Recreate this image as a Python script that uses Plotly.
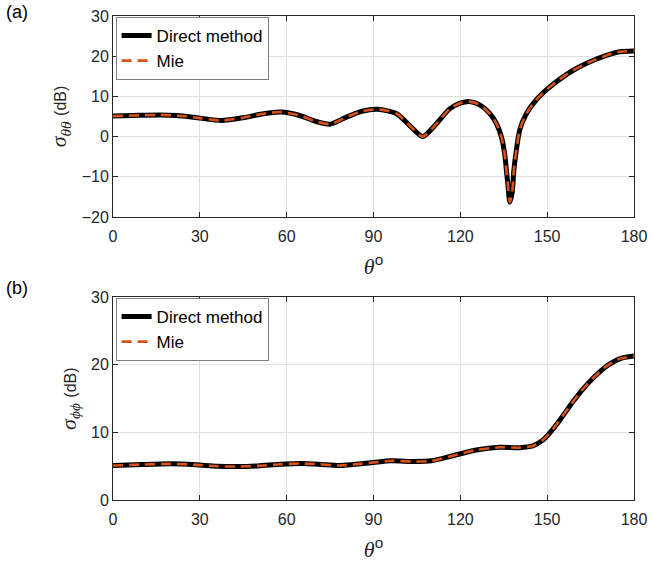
import plotly.graph_objects as go

# (a) sigma_theta-theta, dB
theta_a = [0, 7, 16, 22, 30, 37.5, 45, 52, 58, 64.5, 70, 75, 80.5, 86, 91.5, 98,
           102.5, 107, 111.5, 116.3, 120, 123.2, 126.7, 130.2, 132.5, 134.2, 135.3,
           135.9, 136.5, 137.1, 137.9, 138.5, 139.2, 140.5, 142.8, 146.3, 150, 154.4,
           159, 164.8, 170.5, 175.2, 180]
sigma_tt = [5.1, 5.25, 5.4, 5.25, 4.6, 4.0, 4.7, 5.7, 6.1, 5.25, 3.8, 3.1, 4.8, 6.3, 6.8, 5.7,
            2.75, 0.0, 3.0, 6.9, 8.3, 8.7, 7.9, 5.7, 3.2, -0.1, -4.2,
            -8.3, -12.4, -16.3, -14.0, -8.3, -4.2, 1.6, 5.7, 9.2, 11.8, 14.3,
            16.5, 18.6, 20.2, 21.1, 21.3]

# (b) sigma_phi-phi, dB
theta_b = [0, 10, 20, 28.7, 36, 43, 50, 58, 65, 71, 78, 83, 90, 96, 104, 110, 117.4,
           125.5, 133.5, 140.5, 145, 148.6, 152, 155.5, 159, 162.5, 166, 170.5,
           175, 180]
sigma_pp = [5.1, 5.25, 5.35, 5.2, 5.0, 4.95, 5.05, 5.3, 5.4, 5.3, 5.1, 5.25, 5.55, 5.8, 5.7,
            5.8, 6.55, 7.4, 7.8, 7.75, 8.0, 8.9, 10.5, 12.5, 14.6, 16.5, 18.1, 19.8,
            20.9, 21.3]

x_ticks = [0, 30, 60, 90, 120, 150, 180]

BLACK = '#000000'
ORANGE = '#D95319'
AX = '#262626'
GRID = '#e0e0e0'
SANS = 'Liberation Sans, Arial, sans-serif'
SERIF = 'Liberation Serif, DejaVu Serif, serif'

fig = go.Figure()

for x, y, xa, ya, lg in [(theta_a, sigma_tt, 'x', 'y', 'legend'),
                         (theta_b, sigma_pp, 'x2', 'y2', 'legend2')]:
    fig.add_trace(go.Scatter(
        x=x, y=y, mode='lines', name='Direct method', xaxis=xa, yaxis=ya, legend=lg,
        line=dict(color=BLACK, width=5, shape='spline', smoothing=0.7)
    ))
    fig.add_trace(go.Scatter(
        x=x, y=y, mode='lines', name='Mie', xaxis=xa, yaxis=ya, legend=lg,
        line=dict(color=ORANGE, width=2.6, dash='10px,6px', shape='spline', smoothing=0.7)
    ))

xcommon = dict(range=[0, 180], tickvals=x_ticks, ticks='inside', ticklen=5, tickcolor=AX,
               showline=True, linecolor=AX, linewidth=1, mirror='ticks', automargin=False,
               showgrid=True, gridcolor=GRID, gridwidth=1, zeroline=False,
               ticklabelstandoff=5,
               tickfont=dict(family=SANS, size=16, color=AX))
ycommon = dict(ticks='inside', ticklen=5, tickcolor=AX, automargin=False,
               showline=True, linecolor=AX, linewidth=1, mirror='ticks',
               showgrid=True, gridcolor=GRID, gridwidth=1, zeroline=False,
               tickfont=dict(family=SANS, size=16, color=AX))

xtitle = dict(text='<i>θ</i><sup><span style="font-family:Liberation Sans">o</span></sup>',
              font=dict(family=SERIF, size=22, color=AX), standoff=14)

legend_style = dict(xanchor='left', yanchor='top', bgcolor='white',
                    bordercolor='#7f7f7f', borderwidth=1,
                    font=dict(family=SANS, size=17, color='black'),
                    tracegroupgap=0, itemwidth=30)

fig.update_layout(
    width=653, height=568,
    template='plotly_white',
    plot_bgcolor='white', paper_bgcolor='white',
    margin=dict(l=113, r=19, t=16, b=68),
    showlegend=True,
    xaxis=dict(**xcommon, domain=[0, 1], anchor='y', title=xtitle),
    yaxis=dict(**ycommon, domain=[0.5847, 1], anchor='x', range=[-20, 30], dtick=10,
               title=dict(text='<i>σ</i><sub><i>θθ</i></sub> <span style="font-family:Liberation Sans;font-size:16px">(dB)</span>',
                          font=dict(family=SERIF, size=22, color=AX), standoff=8)),
    xaxis2=dict(**xcommon, domain=[0, 1], anchor='y2', title=xtitle),
    yaxis2=dict(**ycommon, domain=[0, 0.4188], anchor='x2', range=[0, 30], dtick=10,
                title=dict(text='<i>σ</i><sub><i>ϕϕ</i></sub> <span style="font-family:Liberation Sans;font-size:16px">(dB)</span>',
                           font=dict(family=SERIF, size=22, color=AX), standoff=8)),
    legend=dict(**legend_style, x=0.005, y=0.998),
    legend2=dict(**legend_style, x=0.005, y=0.4174),
    annotations=[
        dict(text='(a)', xref='paper', yref='paper', x=-0.21, y=1.008, xanchor='left',
             yanchor='middle', showarrow=False, font=dict(family=SANS, size=18, color='black')),
        dict(text='(b)', xref='paper', yref='paper', x=-0.21, y=0.437, xanchor='left',
             yanchor='middle', showarrow=False, font=dict(family=SANS, size=18, color='black')),
    ],
)

fig.write_html("out.html", config={'displayModeBar': False},
               post_script="document.body.style.margin='0px';")
